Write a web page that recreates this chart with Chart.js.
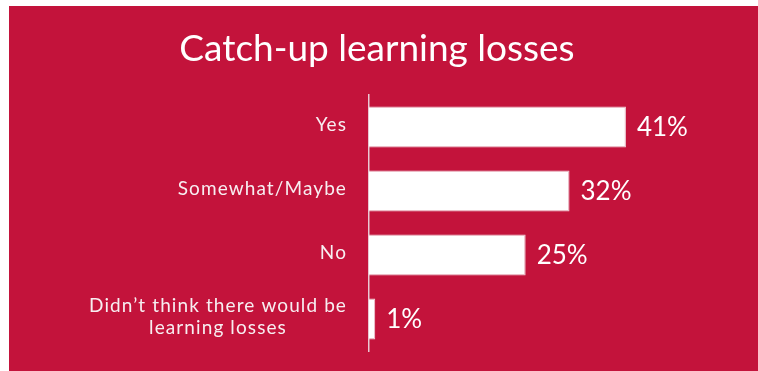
<!DOCTYPE html>
<html>
<head>
<meta charset="utf-8">
<script src="https://cdn.jsdelivr.net/npm/chart.js@4/dist/chart.umd.min.js"></script>
<style>
  html, body { margin: 0; padding: 0; background: #ffffff; }
  #panel { position: absolute; left: 9px; top: 6px; width: 749px; height: 365px; background: #C3133B; }
  #chart { display: block; }
</style>
</head>
<body>
<div id="panel"><canvas id="chart" width="749" height="365"></canvas></div>
<script>
const titleText = 'Catch-up learning losses';
const categories = [
  ['Yes'],
  ['Somewhat/Maybe'],
  ['No'],
  ["Didn\u2019t think there would be", 'learning losses']
];
const percentages = [41, 32, 25, 1];

const FONT = 'Lato, "Open Sans", sans-serif';
const AXIS_WIDTH = 360;

// Category labels: each label block ends at the axis, its lines centred on one another
const categoryLabels = {
  id: 'categoryLabels',
  afterDraw(chart) {
    const { ctx } = chart;
    const y = chart.scales.y;
    const right = chart.chartArea.left - 22;
    ctx.save();
    ctx.font = '19px ' + FONT;
    ctx.letterSpacing = '1.1px';
    ctx.fillStyle = '#f7eef1';
    ctx.textAlign = 'center';
    ctx.textBaseline = 'middle';
    const lineH = 22;
    categories.forEach((lines, i) => {
      const widest = Math.max(...lines.map(l => ctx.measureText(l).width));
      const cx = right - widest / 2;
      const cy = y.getPixelForValue(i);
      lines.forEach((l, j) => {
        ctx.fillText(l, cx, cy - 2 + (j - (lines.length - 1) / 2) * lineH);
      });
    });
    ctx.restore();
  }
};

// Percentage labels just past the end of each bar
const valueLabels = {
  id: 'valueLabels',
  afterDatasetsDraw(chart) {
    const { ctx } = chart;
    const meta = chart.getDatasetMeta(0);
    ctx.save();
    ctx.font = '26px ' + FONT;
    ctx.fillStyle = '#ffffff';
    ctx.textAlign = 'left';
    ctx.textBaseline = 'middle';
    meta.data.forEach((bar, i) => {
      ctx.fillText(percentages[i] + '%', bar.x + 11, bar.y + 1);
    });
    ctx.restore();
  }
};

new Chart(document.getElementById('chart'), {
  type: 'bar',
  data: {
    labels: categories.map(c => c.join(' ')),
    datasets: [{
      data: percentages,
      backgroundColor: '#ffffff',
      borderColor: 'rgba(240,215,222,1)',
      borderWidth: 1,
      borderSkipped: 'left',
      categoryPercentage: 0.8,
      barPercentage: 0.8
    }]
  },
  options: {
    indexAxis: 'y',
    responsive: false,
    animation: false,
    layout: { padding: { top: 0, right: 13, bottom: 20, left: 0 } },
    scales: {
      x: { display: false, min: 0, max: 60 },
      y: {
        afterFit(scale) { scale.width = AXIS_WIDTH; },
        grid: { display: false, drawTicks: false },
        border: { display: true, color: 'rgba(235,210,218,0.95)', width: 1.5 },
        ticks: { display: false }
      }
    },
    plugins: {
      legend: { display: false },
      tooltip: { enabled: false },
      title: {
        display: true,
        text: titleText,
        color: '#ffffff',
        font: { family: FONT, size: 37, weight: 'normal' },
        padding: { top: 21, bottom: 23.5 }
      }
    }
  },
  plugins: [categoryLabels, valueLabels]
});
</script>
</body>
</html>
